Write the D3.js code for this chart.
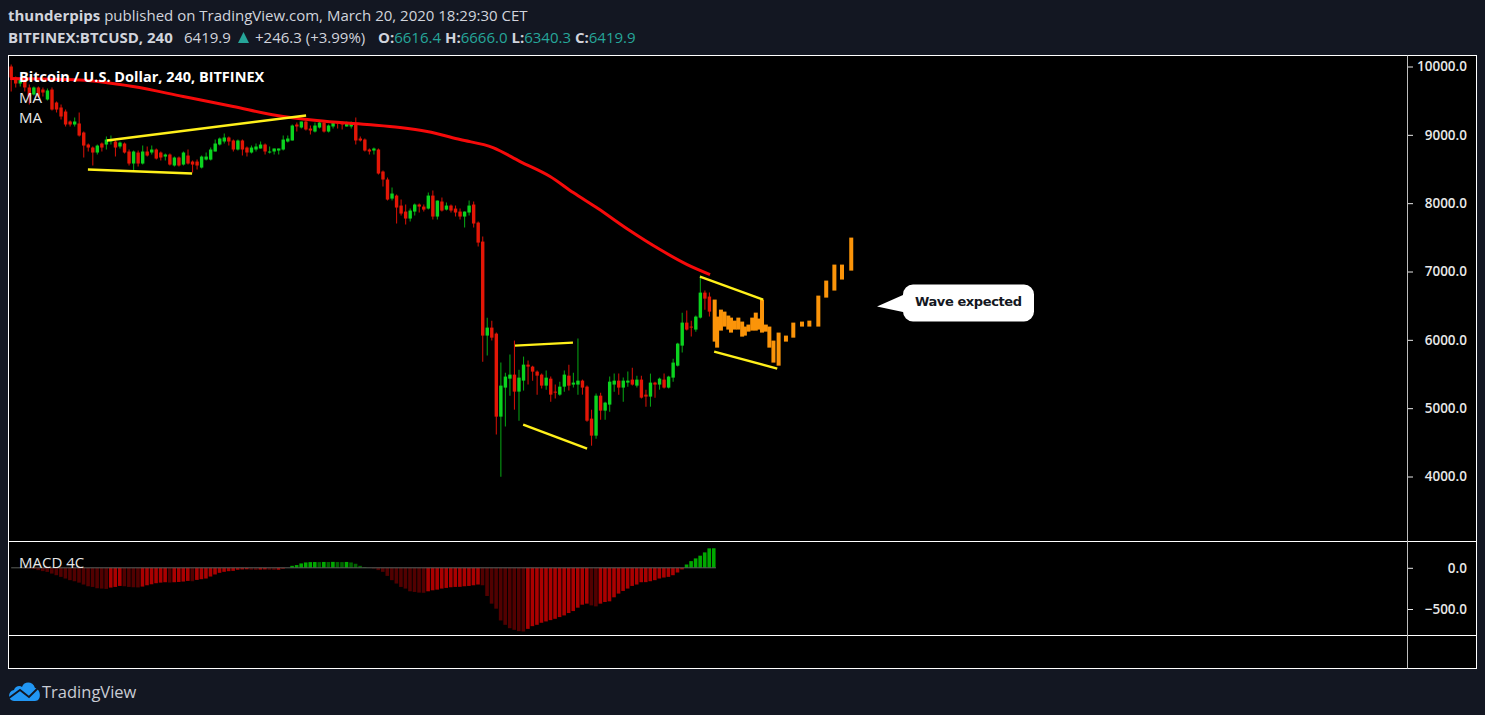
<!DOCTYPE html>
<html><head><meta charset="utf-8">
<script src="https://cdn.jsdelivr.net/npm/d3@7"></script>
<style>
html,body{margin:0;padding:0;background:#131722;overflow:hidden}
text{font-family:"Open Sans",sans-serif}
.ax text{font-family:"Open Sans",sans-serif;fill:#e8e8e8;font-size:13.5px;font-weight:600}
</style></head><body><svg id="c" width="1485" height="715"></svg>
<script>
// ---------- Data ----------
const firstCandleDay = -0.03;               // days since 24 Feb 2020
const opens = [10000,9839,9751,9810,9693,9590,9693,9663,9517,9663,9473,9400,9341,9195,9151,9166,9034,8858,8814,8741,8873,8858,8902,8902,8829,8873,8756,8580,8741,8580,8756,8741,8785,8741,8682,8712,8551,8668,8565,8697,8609,8609,8521,8638,8638,8756,8858,8902,8961,8917,8785,8917,8814,8741,8785,8800,8858,8741,8756,8770,8785,8902,8917,9151,9107,9195,9092,9048,9107,9180,9048,9122,9195,9180,9122,9122,9166,8946,8931,8785,8770,8785,8463,8346,8067,8111,7965,7877,7775,7877,7980,7950,7921,8111,7804,8024,7906,7965,7921,7877,7804,7863,7980,7716,7438,6062,6179,6091,4876,5301,5432,5491,5242,5403,5637,5608,5535,5491,5330,5432,5242,5198,5315,5476,5345,5345,5403,5315,4847,4598,5183,4964,5052,5345,5403,5301,5374,5418,5330,5418,5198,5169,5374,5345,5418,5301,5447,5622,5915,6252,6194,6150,6325,6691,6633];
const highs = [10029,9854,9839,9824,9736,9707,9707,9693,9678,9693,9488,9444,9370,9209,9253,9327,9048,8873,8829,8858,8887,8975,8990,8917,8902,8887,8785,8770,8770,8843,8829,8843,8800,8756,8726,8726,8682,8682,8756,8785,8624,8638,8697,8741,8814,8931,8961,9019,8975,8931,8931,8931,8829,8843,8873,8902,8873,8829,8800,8800,8990,8990,9151,9180,9195,9209,9136,9180,9209,9195,9151,9195,9195,9195,9195,9195,9253,8975,8946,8800,8814,8800,8477,8375,8229,8126,8053,7980,7921,7994,7994,7980,8155,8185,8038,8082,8009,7980,7965,7921,7877,8038,8024,7731,7511,6325,6281,6106,5667,5520,5784,5989,5564,5755,5696,5622,5550,5506,5550,5462,5345,5388,5550,5637,5520,6018,5418,5330,4978,5213,5227,5095,5462,5506,5506,5447,5535,5593,5476,5476,5271,5506,5388,5447,5506,5476,5725,5959,6398,6428,6281,6355,6940,6721,6691];
const lows = [9634,9693,9707,9634,9444,9575,9546,9561,9502,9356,9327,9224,9122,9122,9122,8975,8668,8756,8551,8712,8756,8785,8858,8682,8800,8726,8551,8477,8536,8565,8682,8712,8638,8624,8624,8551,8536,8536,8551,8565,8448,8492,8507,8624,8624,8756,8843,8873,8843,8756,8770,8697,8682,8726,8756,8800,8712,8726,8712,8712,8770,8887,8917,9048,9092,9063,9005,9034,9092,9034,9034,9092,9092,9078,9122,9092,8858,8902,8756,8712,8712,8419,8243,8038,8038,7702,7819,7687,7731,7819,7863,7877,7906,7760,7760,7877,7892,7863,7804,7760,7643,7819,7643,7365,5681,5769,5989,4613,3998,4730,5183,4978,4817,5257,5345,5403,5198,5286,5271,5095,5140,5183,5242,5257,5301,5198,5198,4803,4451,4554,4832,4832,4949,5242,5198,5095,5315,5330,5301,5140,5022,5022,5154,5271,5286,5286,5388,5608,5813,6135,6047,6120,6311,6442,6340];
const closes = [9839,9751,9824,9693,9561,9693,9561,9619,9649,9370,9370,9268,9151,9151,9195,8990,8843,8814,8741,8843,8814,8931,8931,8814,8887,8741,8580,8756,8580,8756,8697,8785,8653,8668,8712,8565,8668,8551,8741,8580,8565,8551,8682,8682,8785,8873,8946,8961,8902,8785,8917,8785,8741,8814,8829,8858,8756,8756,8800,8800,8931,8946,9136,9122,9195,9078,9063,9136,9180,9048,9136,9195,9166,9151,9166,9180,8917,8917,8770,8756,8800,8434,8346,8053,8141,7936,7848,7775,7892,7980,7950,7906,8111,7804,8038,7892,7965,7892,7863,7804,7877,7965,7702,7423,6062,6179,6032,4876,5330,5462,5491,5242,5447,5637,5608,5535,5476,5330,5447,5198,5227,5315,5491,5330,5374,5403,5301,4817,4598,5183,4964,5081,5388,5403,5301,5403,5403,5345,5418,5154,5169,5374,5345,5432,5301,5462,5667,5945,6252,6150,6179,6340,6691,6603,6413];
const macd = [0,0,-2,-5,-10,-15,-28,-40,-50,-70,-90,-110,-130,-150,-163,-180,-203,-224,-232,-248,-252,-256,-240,-232,-220,-224,-232,-236,-238,-228,-212,-200,-187,-180,-175,-179,-175,-172,-167,-159,-163,-147,-138,-130,-106,-81,-61,-49,-41,-37,-24,-20,-18,-24,-26,-22,-20,-24,-26,-24,-10,0,24,33,53,65,69,70,69,71,70,72,70,69,71,65,49,24,8,-2,-8,-28,-49,-98,-150,-191,-232,-252,-285,-293,-301,-303,-285,-273,-265,-252,-244,-236,-232,-231,-224,-220,-212,-203,-212,-342,-435,-496,-639,-692,-733,-753,-769,-773,-741,-708,-692,-667,-651,-635,-619,-598,-578,-549,-525,-484,-448,-435,-456,-468,-435,-415,-407,-358,-313,-281,-252,-220,-203,-175,-174,-163,-150,-130,-118,-110,-90,-57,-20,40,81,114,147,187,236,237];
const maDays = [-0.07,2.5,4.45,6.29,8.13,9.74,11.21,13.05,14.26,15.26,16.47,17.68,18.68,19.78,20.63,21.54,22.65,23.82,24.82,25.66];
const maValues = [9824,9802,9707,9561,9414,9283,9209,9151,9107,9048,8931,8814,8609,8390,8155,7921,7614,7321,7101,6955];
const waveDays = [25.83,25.92,26.06,26.19,26.33,26.43,26.57,26.70,26.84,26.94,27.07,27.21,27.34,27.45,27.57,27.71,27.84,27.99,28.18,28.45,28.72,29.04,29.31,29.64,29.93,30.23,30.51,30.85];
const waveTop = [6589,6340,6442,6413,6355,6325,6281,6325,6267,6194,6223,6325,6398,6311,6589,6223,6194,5989,6106,6062,6252,6267,6281,6647,6867,7101,7101,7496];
const waveBottom = [5974,5886,6135,6194,6150,6106,6150,6150,6047,6062,6120,6135,6135,6150,6106,6120,5886,5667,5622,5974,6032,6194,6194,6194,6618,6721,6882,7013];
const trendStartDay = [3.49,2.79,18.49,18.79,25.29,25.81];
const trendStartPrice = [8917,8492,5915,4759,6926,5828];
const trendEndDay = [10.81,6.62,20.62,21.14,27.61,28.13];
const trendEndPrice = [9283,8434,5959,4407,6589,5579];
const priceTicks = [10000,9000,8000,7000,6000,5000,4000];
const macdTicks = [0,-500];
const timeTickDays = [0,6,10,14,17.5,21,24.5,28,32,37,42,45.5,49];
const timeTickLabels = ["24","Mar","5","9","13:00","16","13:00","23","27","Apr","6","14:00","13"];
const boldTimeLabels = ["Mar","Apr"];

// ---------- Layout ----------
const L=8.5,R=1476.5,T=55.5,B=668.5,AX=1407,P1=541.5,P2=635.5;
const svg=d3.select("#c");
const x=d3.scaleLinear().domain([0,49]).range([12,1345]);
const y=d3.scaleLinear().domain([4000,10000]).range([476.5,66.5]);
const ym=d3.scaleLinear().domain([-500,0]).range([609,567.8]);
svg.append("rect").attr("width",1485).attr("height",715).attr("fill","#131722");
svg.append("rect").attr("x",L).attr("y",T).attr("width",R-L).attr("height",B-T).attr("fill","#000");
const defs=svg.append("defs");
defs.append("clipPath").attr("id","plot").append("rect").attr("x",L).attr("y",T).attr("width",AX-L).attr("height",P1-T);
defs.append("clipPath").attr("id","frame").append("rect").attr("x",L).attr("y",T).attr("width",R-L).attr("height",B-T);

// ---------- Candles ----------
const dayOf=i=>firstCandleDay+i/6;
const GREEN="#0bd31f",GREENW="#069a12",RED="#e31606",REDW="#c80f05";
const g=svg.append("g").attr("clip-path","url(#plot)");
const cd=opens.map((o,i)=>({o,h:highs[i],l:lows[i],c:closes[i],d:dayOf(i)}));
g.selectAll("line.w").data(cd).join("line").attr("class","w")
 .attr("x1",d=>x(d.d)).attr("x2",d=>x(d.d)).attr("y1",d=>y(d.h)).attr("y2",d=>y(d.l))
 .attr("stroke",d=>d.c>=d.o?GREENW:REDW).attr("stroke-width",1.1);
g.selectAll("rect.b").data(cd).join("rect").attr("class","b")
 .attr("x",d=>x(d.d)-1.7).attr("width",3.4)
 .attr("y",d=>y(Math.max(d.o,d.c))).attr("height",d=>Math.max(1,Math.abs(y(d.o)-y(d.c))))
 .attr("fill",d=>d.c>=d.o?GREEN:RED);

// MA
g.append("path").attr("d",d3.line().x((d,i)=>x(maDays[i])).y(d=>y(d)).curve(d3.curveMonotoneX)(maValues))
 .attr("fill","none").attr("stroke","#f60a0a").attr("stroke-width",3);

// forecast bars
g.selectAll("rect.wave").data(waveDays).join("rect").attr("class","wave")
 .attr("x",d=>x(d)-2).attr("width",4)
 .attr("y",(d,i)=>y(waveTop[i])).attr("height",(d,i)=>y(waveBottom[i])-y(waveTop[i]))
 .attr("fill","#fb9409");

// trend lines
g.selectAll("line.t").data(trendStartDay).join("line").attr("class","t")
 .attr("x1",d=>x(d)).attr("y1",(d,i)=>y(trendStartPrice[i]))
 .attr("x2",(d,i)=>x(trendEndDay[i])).attr("y2",(d,i)=>y(trendEndPrice[i]))
 .attr("stroke","#fff01a").attr("stroke-width",2.4);

// callout
svg.append("path").attr("fill","#fff")
 .attr("d","M877,306.5 L903,295 V294.5 A10,10 0 0 1 913,284.5 H1024 A10,10 0 0 1 1034,294.5 V311.5 A10,10 0 0 1 1024,321.5 H913 A10,10 0 0 1 903,311.5 V312 Z");
svg.append("text").attr("x",968.5).attr("y",306).attr("text-anchor","middle")
 .attr("font-size",13).attr("font-weight",700).attr("fill","#131722").text("Wave expected")
 .style("font-family","'DejaVu Sans',sans-serif").attr("textLength",107);

// ---------- MACD ----------
const gm=svg.append("g");
gm.selectAll("rect.m").data(macd).join("rect").attr("class","m")
 .attr("x",(d,i)=>x(dayOf(i))-2.0).attr("width",3.6)
 .attr("y",d=>Math.min(ym(d),ym(0))).attr("height",d=>Math.abs(ym(d)-ym(0)))
 .attr("fill",(d,i)=>{const up=i===0||d>=macd[i-1];
   return d>=0?(up?"#00a800":"#006400"):(up?"#ab0000":"#520000");});
gm.append("line").attr("x1",x(dayOf(0))).attr("x2",x(dayOf(macd.length-1))+2).attr("y1",ym(0)).attr("y2",ym(0))
 .attr("stroke","#5a5f5a").attr("stroke-width",1);

// ---------- Axes ----------
const ay=d3.axisRight(y).tickValues(priceTicks).tickSize(6).tickPadding(5).tickFormat(d3.format(".1f"));
const am=d3.axisRight(ym).tickValues(macdTicks).tickSize(6).tickPadding(5).tickFormat(d=>d===0?"0.0":"\u2212"+Math.abs(d).toFixed(1));
const at=d3.axisBottom(x).tickValues(timeTickDays).tickSize(5).tickPadding(8).tickFormat((d,i)=>timeTickLabels[i]);
[[ay,`translate(${AX},0)`],[am,`translate(${AX},0)`],[at,`translate(0,${P2})`]].forEach(([a,t])=>{
  const s=svg.append("g").attr("class","ax").attr("transform",t).attr("clip-path",null).call(a);
  s.select(".domain").remove();
  s.selectAll("line").attr("stroke","#e8e8e8");
  return s;
});
svg.selectAll(".ax").filter((d,i)=>i<2).selectAll("text").attr("x",60).attr("text-anchor","end");
const tg=svg.selectAll(".ax").filter((d,i)=>i===2);
tg.attr("clip-path","url(#frame)");
tg.selectAll("text").attr("font-weight",d=>boldTimeLabels.includes(timeTickLabels[timeTickDays.indexOf(d)])?700:600)
  .style("font-weight",function(d){return boldTimeLabels.includes(timeTickLabels[timeTickDays.indexOf(d)])?700:600;})
  .attr("fill","#fff");

// frame
const fr=svg.append("g").attr("stroke","#fff").attr("fill","none");
fr.append("rect").attr("x",L).attr("y",T).attr("width",R-L).attr("height",B-T);
fr.append("line").attr("x1",L).attr("x2",R).attr("y1",P1).attr("y2",P1);
fr.append("line").attr("x1",L).attr("x2",R).attr("y1",P2).attr("y2",P2);
fr.append("line").attr("x1",AX+.5).attr("x2",AX+.5).attr("y1",T).attr("y2",B).attr("stroke","#bdbdbd");

// ---------- Text ----------
const TXT="#d1d4dc",TEAL="#26a69a";
const t1=svg.append("text").attr("x",8).attr("y",21).attr("font-size",15).attr("fill",TXT);
t1.append("tspan").attr("font-weight",700).text("thunderpips");
t1.append("tspan").text(" published on TradingView.com, March 20, 2020 18:29:30 CET");
svg.append("text").attr("x",8).attr("y",43).attr("font-size",15).attr("font-weight",700).attr("fill",TXT).text("BITFINEX:BTCUSD, 240");
svg.append("text").attr("x",184).attr("y",43).attr("font-size",15).attr("fill",TXT).text("6419.9");
svg.append("path").attr("d","M238,43 L243.5,32 L249,43 Z").attr("fill",TEAL);
svg.append("text").attr("x",255).attr("y",43).attr("font-size",15).attr("fill",TXT).text("+246.3 (+3.99%)");
const t2=svg.append("text").attr("x",378).attr("y",43).attr("font-size",15);
[["O:","6616.4"],[" H:","6666.0"],[" L:","6340.3"],[" C:","6419.9"]].forEach(([a,b])=>{
  t2.append("tspan").attr("font-weight",700).attr("fill",TXT).text(a);
  t2.append("tspan").attr("fill",TEAL).text(b);
});
svg.append("text").attr("x",19).attr("y",82).attr("font-size",14.5).attr("font-weight",700).attr("fill","#fff").text("Bitcoin / U.S. Dollar, 240, BITFINEX");
svg.append("text").attr("x",19).attr("y",103).attr("font-size",15).attr("fill","#e8e8e8").text("MA");
svg.append("text").attr("x",19).attr("y",123).attr("font-size",15).attr("fill","#e8e8e8").text("MA");
svg.append("text").attr("x",19).attr("y",568).attr("font-size",15).attr("fill","#e8e8e8").text("MACD 4C");

// logo
const lg=svg.append("g");
lg.append("path").attr("fill","#2196f3").attr("d","M14,701 C8,701 7,691 14,690 C15,686 20,685 22,687 C24,681 33,681 35,688 C41,689 42,701 35,701 Z");
lg.append("path").attr("fill","none").attr("stroke","#131722").attr("stroke-width",1.8).attr("d","M9,698 L20,690 L29,697 L38,688");
svg.append("text").attr("x",42).attr("y",698).attr("font-size",16.5).attr("fill","#c9ccd4").text("TradingView");
</script></body></html>
